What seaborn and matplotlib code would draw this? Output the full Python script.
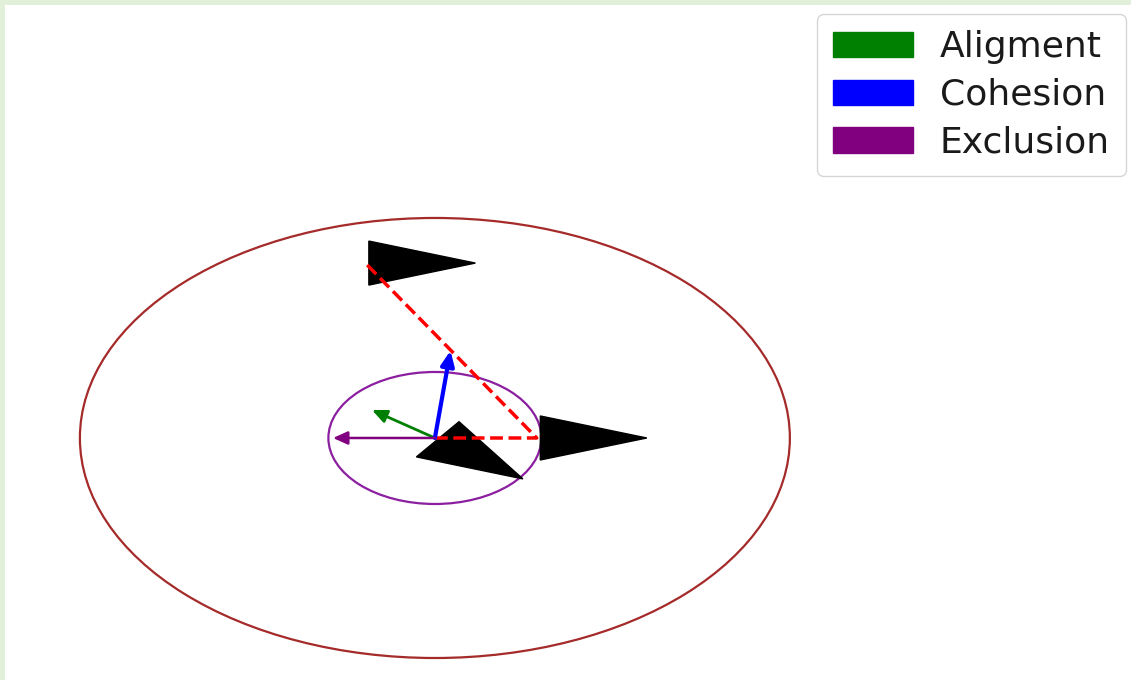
import numpy as np
import matplotlib
matplotlib.use('Agg')
import matplotlib.pyplot as plt
import matplotlib.patches as mpatches
import seaborn as sns

# boids: the focal one first, then its two neighbours
boid_x = [0.0, 0.287, -0.196]
boid_y = [0.0, 0.0, 0.795]
head_x = [0.8, 1.0, 1.0]
head_y = [-0.6, 0.0, 0.0]

# radii of the view zone and the exclusion zone
view_radius = 1.0
excl_radius = 0.3

# steering vectors from the focal boid
force_names = ['Aligment', 'Cohesion', 'Exclusion']
force_dx = [-0.177, 0.044, -0.287]
force_dy = [0.127, 0.397, 0.0]
force_colors = ['green', 'blue', 'purple']

# neighbour links (focal -> right -> top)
link_order = [0, 1, 2]

sns.set_theme(style='white')
plt.rcParams['font.family'] = ['DejaVu Sans']

fig = plt.figure(figsize=(11.31, 6.8), dpi=100)
fig.patch.set_facecolor('#e2efd9')
ax = fig.add_axes([5 / 1131, 0, 1126 / 1131, 675 / 680])
ax.set_facecolor('white')
ax.set_xlim(-1.211, 1.961)
ax.set_ylim(-1.100, 1.968)
ax.set_xticks([])
ax.set_yticks([])
sns.despine(ax=ax, left=True, bottom=True)

ax.add_patch(plt.Circle((boid_x[0], boid_y[0]), view_radius, fill=False,
                        color='brown', lw=1.6))
ax.add_patch(plt.Circle((boid_x[0], boid_y[0]), excl_radius, fill=False,
                        color='#8b1fa0', lw=1.6))

# boid triangles
for x, y, hx, hy in zip(boid_x, boid_y, head_x, head_y):
    u = np.array([hx, hy]) / np.hypot(hx, hy)
    p = np.array([-u[1], u[0]])
    base = np.array([x, y]) + 0.01 * u
    tri = [base + 0.1 * p, base + 0.3 * u, base - 0.1 * p]
    ax.add_patch(mpatches.Polygon(tri, closed=True, color='black', zorder=3))

sns.lineplot(x=[boid_x[i] for i in link_order], y=[boid_y[i] for i in link_order],
             sort=False, estimator=None, color='red', linestyle='--',
             linewidth=2.5, ax=ax, zorder=4)

widths = [2.0, 3.0, 1.8]
for dx, dy, c, w in zip(force_dx, force_dy, force_colors, widths):
    ax.annotate('', xy=(boid_x[0] + dx, boid_y[0] + dy), xytext=(boid_x[0], boid_y[0]),
                arrowprops=dict(arrowstyle='-|>,head_length=0.4,head_width=0.18',
                                mutation_scale=22, color=c, lw=w,
                                shrinkA=0, shrinkB=0), zorder=5)

handles = [mpatches.Patch(color=c, label=n) for n, c in zip(force_names, force_colors)]
ax.legend(handles=handles, loc='upper right', fontsize=26, labelcolor='#1a1a1a',
          bbox_to_anchor=(1126 / 1131, 1 - 14 / 680), bbox_transform=fig.transFigure,
          borderaxespad=0, handlelength=2.2, handleheight=0.7,
          handletextpad=0.75, labelspacing=0.38, borderpad=0.45)

fig.savefig('out.png', dpi=100, facecolor=fig.get_facecolor())
